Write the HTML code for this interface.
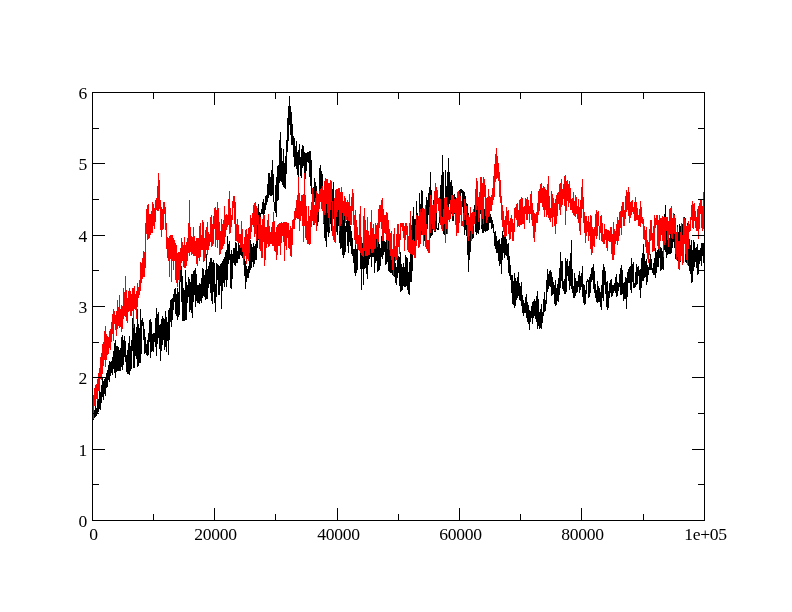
<!DOCTYPE html>
<html><head><meta charset="utf-8"><title>plot</title>
<style>
html,body{margin:0;padding:0;background:#fff;}
body{width:792px;height:612px;position:relative;overflow:hidden;font-family:"Liberation Serif",serif;font-size:17.6px;letter-spacing:-0.3px;color:#000;}
svg{position:absolute;left:0;top:0;}
#labels{position:absolute;left:0;top:0;width:792px;height:612px;will-change:transform;transform:translateZ(0);}
.xl{position:absolute;top:525px;width:81px;text-align:center;line-height:18px;white-space:nowrap;}
.yl{position:absolute;left:40px;width:47px;text-align:right;line-height:20px;}
</style></head><body>
<svg width="792" height="612" viewBox="0 0 792 612" shape-rendering="crispEdges">
<path d="M92 411v9h1v-9zM93 410v10h1v-10zM94 410v8h1v-8zM95 405v12h1v-12zM96 408v8h1v-8zM97 400v13h1v-13zM98 399v13h1v-13zM99 391v18h1v-18zM100 392v18h1v-18zM101 385v18h1v-18zM102 378v19h1v-19zM103 381v19h1v-19zM104 379v15h1v-15zM105 377v19h1v-19zM106 373v15h1v-15zM107 370v17h1v-17zM108 365v15h1v-15zM109 361v21h1v-21zM110 362v14h1v-14zM111 361v12h1v-12zM112 357v18h1v-18zM113 351v18h1v-18zM114 343v30h1v-30zM115 340v38h1v-38zM116 346v26h1v-26zM117 346v25h1v-25zM118 347v24h1v-24zM119 350v21h1v-21zM120 348v23h1v-23zM121 337v30h1v-30zM122 335v35h1v-35zM123 340v25h1v-25zM124 336v21h1v-21zM125 341v21h1v-21zM126 355v17h1v-17zM127 350v24h1v-24zM128 343v31h1v-31zM129 336v39h1v-39zM130 346v25h1v-25zM131 340v29h1v-29zM132 318v33h1v-33zM133 315v53h1v-53zM134 324v44h1v-44zM135 333v23h1v-23zM136 327v32h1v-32zM137 309v58h1v-58zM138 324v42h1v-42zM139 328v35h1v-35zM140 309v54h1v-54zM141 320v34h1v-34zM142 318v8h1v-8zM143 322v18h1v-18zM144 329v25h1v-25zM145 337v16h1v-16zM146 344v11h1v-11zM147 340v16h1v-16zM148 333v22h1v-22zM149 320v22h1v-22zM150 319v39h1v-39zM151 322v30h1v-30zM152 334v17h1v-17zM153 333v19h1v-19zM154 333v9h1v-9zM155 318v29h1v-29zM156 308v48h1v-48zM157 314v30h1v-30zM158 312v26h1v-26zM159 325v24h1v-24zM160 324v37h1v-37zM161 319v32h1v-32zM162 316v29h1v-29zM163 318v22h1v-22zM164 319v31h1v-31zM165 311v36h1v-36zM166 317v35h1v-35zM167 322v19h1v-19zM168 310v45h1v-45zM169 308v32h1v-32zM170 300v22h1v-22zM171 299v28h1v-28zM172 298v22h1v-22zM173 294v16h1v-16zM174 289v13h1v-13zM175 288v26h1v-26zM176 294v22h1v-22zM177 288v32h1v-32zM178 292v25h1v-25zM179 271v44h1v-44zM180 267v15h1v-15zM181 266v36h1v-36zM182 276v45h1v-45zM183 288v33h1v-33zM184 290v31h1v-31zM185 270v50h1v-50zM186 282v38h1v-38zM187 285v18h1v-18zM188 277v20h1v-20zM189 279v33h1v-33zM190 282v28h1v-28zM191 274v39h1v-39zM192 274v44h1v-44zM193 271v31h1v-31zM194 270v25h1v-25zM195 268v39h1v-39zM196 274v27h1v-27zM197 285v18h1v-18zM198 285v18h1v-18zM199 283v21h1v-21zM200 284v17h1v-17zM201 278v25h1v-25zM202 268v30h1v-30zM203 269v27h1v-27zM204 275v22h1v-22zM205 270v30h1v-30zM206 254v45h1v-45zM207 269v30h1v-30zM208 266v22h1v-22zM209 262v22h1v-22zM210 258v35h1v-35zM211 258v43h1v-43zM212 262v42h1v-42zM213 260v32h1v-32zM214 263v40h1v-40zM215 284v28h1v-28zM216 263v34h1v-34zM217 264v16h1v-16zM218 265v30h1v-30zM219 266v29h1v-29zM220 264v22h1v-22zM221 263v46h1v-46zM222 261v30h1v-30zM223 259v24h1v-24zM224 257v30h1v-30zM225 252v28h1v-28zM226 250v37h1v-37zM227 236v44h1v-44zM228 244v20h1v-20zM229 241v19h1v-19zM230 254v34h1v-34zM231 250v39h1v-39zM232 254v25h1v-25zM233 248v15h1v-15zM234 248v17h1v-17zM235 242v24h1v-24zM236 243v20h1v-20zM237 251v12h1v-12zM238 239v20h1v-20zM239 245v14h1v-14zM240 242v13h1v-13zM241 236v20h1v-20zM242 241v17h1v-17zM243 252v7h1v-7zM244 255v21h1v-21zM245 261v28h1v-28zM246 266v16h1v-16zM247 269v9h1v-9zM248 266v12h1v-12zM249 253v20h1v-20zM250 240v30h1v-30zM251 244v24h1v-24zM252 247v15h1v-15zM253 243v24h1v-24zM254 246v18h1v-18zM255 244v16h1v-16zM256 238v22h1v-22zM257 220v28h1v-28zM258 204v36h1v-36zM259 212v23h1v-23zM260 213v17h1v-17zM261 209v5h1v-5zM262 202v12h1v-12zM263 199v20h1v-20zM264 203v11h1v-11zM265 196v14h1v-14zM266 195v10h1v-10zM267 184v18h1v-18zM268 173v25h1v-25zM269 173v22h1v-22zM270 177v19h1v-19zM271 170v26h1v-26zM272 160v35h1v-35zM273 174v28h1v-28zM274 202v9h1v-9zM275 185v28h1v-28zM276 177v40h1v-40zM277 166v35h1v-35zM278 165v35h1v-35zM279 140v43h1v-43zM280 132v49h1v-49zM281 148v34h1v-34zM282 161v24h1v-24zM283 149v38h1v-38zM284 163v25h1v-25zM285 156v33h1v-33zM286 140v34h1v-34zM287 118v34h1v-34zM288 106v35h1v-35zM289 96v29h1v-29zM290 106v29h1v-29zM291 112v33h1v-33zM292 124v21h1v-21zM293 136v21h1v-21zM294 138v29h1v-29zM295 146v20h1v-20zM296 141v28h1v-28zM297 152v23h1v-23zM298 150v27h1v-27zM299 144v21h1v-21zM300 157v19h1v-19zM301 149v29h1v-29zM302 145v23h1v-23zM303 146v20h1v-20zM304 152v28h1v-28zM305 153v26h1v-26zM306 153v18h1v-18zM307 152v10h1v-10zM308 152v11h1v-11zM309 151v26h1v-26zM310 151v35h1v-35zM311 160v34h1v-34zM312 189v28h1v-28zM313 187v38h1v-38zM314 178v24h1v-24zM315 182v39h1v-39zM316 186v45h1v-45zM317 198v28h1v-28zM318 200v22h1v-22zM319 168v32h1v-32zM320 165v26h1v-26zM321 171v31h1v-31zM322 174v32h1v-32zM323 195v29h1v-29zM324 185v53h1v-53zM325 199v42h1v-42zM326 203v44h1v-44zM327 194v38h1v-38zM328 205v32h1v-32zM329 195v38h1v-38zM330 202v22h1v-22zM331 187v44h1v-44zM332 189v30h1v-30zM333 182v37h1v-37zM334 199v33h1v-33zM335 195v33h1v-33zM336 209v23h1v-23zM337 191v44h1v-44zM338 194v32h1v-32zM339 200v43h1v-43zM340 195v54h1v-54zM341 223v25h1v-25zM342 213v42h1v-42zM343 205v53h1v-53zM344 207v48h1v-48zM345 226v26h1v-26zM346 221v11h1v-11zM347 217v29h1v-29zM348 215v38h1v-38zM349 221v21h1v-21zM350 226v20h1v-20zM351 231v23h1v-23zM352 238v18h1v-18zM353 249v14h1v-14zM354 249v24h1v-24zM355 238v38h1v-38zM356 249v24h1v-24zM357 241v29h1v-29zM358 242v7h1v-7zM359 243v5h1v-5zM360 244v25h1v-25zM361 244v46h1v-46zM362 243v26h1v-26zM363 242v43h1v-43zM364 240v29h1v-29zM365 240v28h1v-28zM366 244v30h1v-30zM367 240v39h1v-39zM368 237v28h1v-28zM369 236v23h1v-23zM370 236v21h1v-21zM371 236v31h1v-31zM372 235v22h1v-22zM373 235v22h1v-22zM374 241v32h1v-32zM375 245v18h1v-18zM376 237v24h1v-24zM377 246v26h1v-26zM378 238v33h1v-33zM379 244v26h1v-26zM380 248v18h1v-18zM381 236v21h1v-21zM382 228v31h1v-31zM383 232v23h1v-23zM384 241v11h1v-11zM385 242v23h1v-23zM386 236v28h1v-28zM387 233v29h1v-29zM388 232v39h1v-39zM389 231v41h1v-41zM390 249v24h1v-24zM391 252v21h1v-21zM392 264v11h1v-11zM393 258v18h1v-18zM394 249v28h1v-28zM395 263v20h1v-20zM396 267v18h1v-18zM397 257v21h1v-21zM398 256v17h1v-17zM399 257v29h1v-29zM400 252v40h1v-40zM401 264v27h1v-27zM402 267v23h1v-23zM403 263v23h1v-23zM404 267v20h1v-20zM405 255v32h1v-32zM406 257v29h1v-29zM407 258v32h1v-32zM408 272v22h1v-22zM409 262v33h1v-33zM410 239v43h1v-43zM411 225v57h1v-57zM412 216v55h1v-55zM413 207v47h1v-47zM414 219v30h1v-30zM415 219v21h1v-21zM416 201v39h1v-39zM417 213v24h1v-24zM418 219v18h1v-18zM419 193v40h1v-40zM420 204v24h1v-24zM421 190v45h1v-45zM422 191v27h1v-27zM423 209v31h1v-31zM424 224v17h1v-17zM425 217v26h1v-26zM426 197v46h1v-46zM427 200v29h1v-29zM428 193v22h1v-22zM429 187v52h1v-52zM430 172v66h1v-66zM431 190v46h1v-46zM432 210v25h1v-25zM433 200v27h1v-27zM434 193v39h1v-39zM435 202v30h1v-30zM436 213v16h1v-16zM437 228v2h1v-2zM438 223v7h1v-7zM439 203v20h1v-20zM440 185v28h1v-28zM441 175v52h1v-52zM442 155v74h1v-74zM443 172v62h1v-62zM444 202v33h1v-33zM445 170v65h1v-65zM446 186v48h1v-48zM447 172v56h1v-56zM448 158v55h1v-55zM449 172v32h1v-32zM450 182v32h1v-32zM451 180v34h1v-34zM452 186v35h1v-35zM453 195v26h1v-26zM454 194v20h1v-20zM455 197v14h1v-14zM456 201v11h1v-11zM457 203v20h1v-20zM458 194v29h1v-29zM459 190v19h1v-19zM460 189v10h1v-10zM461 189v4h1v-4zM462 190v17h1v-17zM463 191v26h1v-26zM464 192v43h1v-43zM465 196v34h1v-34zM466 203v33h1v-33zM467 204v51h1v-51zM468 213v59h1v-59zM469 221v39h1v-39zM470 211v41h1v-41zM471 220v20h1v-20zM472 222v17h1v-17zM473 210v28h1v-28zM474 205v12h1v-12zM475 205v27h1v-27zM476 202v33h1v-33zM477 202v31h1v-31zM478 211v23h1v-23zM479 197v33h1v-33zM480 198v16h1v-16zM481 199v30h1v-30zM482 210v23h1v-23zM483 199v34h1v-34zM484 209v22h1v-22zM485 215v17h1v-17zM486 214v17h1v-17zM487 205v26h1v-26zM488 214v16h1v-16zM489 214v9h1v-9zM490 214v9h1v-9zM491 217v12h1v-12zM492 220v8h1v-8zM493 224v9h1v-9zM494 232v14h1v-14zM495 231v18h1v-18zM496 236v17h1v-17zM497 241v12h1v-12zM498 240v21h1v-21zM499 239v27h1v-27zM500 244v20h1v-20zM501 238v36h1v-36zM502 231v29h1v-29zM503 235v18h1v-18zM504 232v26h1v-26zM505 227v28h1v-28zM506 239v17h1v-17zM507 244v16h1v-16zM508 243v30h1v-30zM509 256v20h1v-20zM510 265v15h1v-15zM511 275v18h1v-18zM512 275v29h1v-29zM513 281v24h1v-24zM514 273v35h1v-35zM515 278v28h1v-28zM516 281v19h1v-19zM517 277v21h1v-21zM518 272v24h1v-24zM519 283v17h1v-17zM520 286v15h1v-15zM521 282v24h1v-24zM522 295v18h1v-18zM523 300v16h1v-16zM524 303v10h1v-10zM525 297v16h1v-16zM526 294v24h1v-24zM527 302v20h1v-20zM528 305v19h1v-19zM529 310v20h1v-20zM530 311v11h1v-11zM531 306v12h1v-12zM532 302v22h1v-22zM533 301v17h1v-17zM534 299v17h1v-17zM535 301v18h1v-18zM536 296v26h1v-26zM537 291v38h1v-38zM538 299v27h1v-27zM539 312v17h1v-17zM540 309v19h1v-19zM541 304v25h1v-25zM542 312v11h1v-11zM543 299v17h1v-17zM544 292v20h1v-20zM545 300v11h1v-11zM546 280v24h1v-24zM547 269v23h1v-23zM548 274v15h1v-15zM549 271v15h1v-15zM550 270v17h1v-17zM551 272v24h1v-24zM552 277v18h1v-18zM553 282v12h1v-12zM554 285v19h1v-19zM555 280v26h1v-26zM556 288v17h1v-17zM557 284v17h1v-17zM558 278v24h1v-24zM559 268v27h1v-27zM560 252v36h1v-36zM561 261v20h1v-20zM562 261v28h1v-28zM563 281v10h1v-10zM564 279v15h1v-15zM565 258v36h1v-36zM566 261v31h1v-31zM567 259v17h1v-17zM568 266v15h1v-15zM569 261v29h1v-29zM570 253v33h1v-33zM571 240v49h1v-49zM572 269v24h1v-24zM573 286v12h1v-12zM574 273v25h1v-25zM575 278v18h1v-18zM576 281v12h1v-12zM577 281v11h1v-11zM578 275v12h1v-12zM579 271v22h1v-22zM580 276v14h1v-14zM581 273v14h1v-14zM582 266v31h1v-31zM583 284v19h1v-19zM584 285v20h1v-20zM585 290v14h1v-14zM586 281v13h1v-13zM587 279v3h1v-3zM588 280v18h1v-18zM589 277v20h1v-20zM590 274v19h1v-19zM591 268v14h1v-14zM592 267v13h1v-13zM593 264v25h1v-25zM594 271v22h1v-22zM595 284v14h1v-14zM596 290v12h1v-12zM597 281v22h1v-22zM598 286v16h1v-16zM599 288v14h1v-14zM600 292v15h1v-15zM601 285v25h1v-25zM602 270v28h1v-28zM603 264v37h1v-37zM604 267v18h1v-18zM605 271v23h1v-23zM606 282v25h1v-25zM607 281v29h1v-29zM608 291v17h1v-17zM609 283v15h1v-15zM610 280v13h1v-13zM611 279v18h1v-18zM612 285v11h1v-11zM613 285v8h1v-8zM614 283v8h1v-8zM615 277v16h1v-16zM616 274v23h1v-23zM617 282v14h1v-14zM618 283v8h1v-8zM619 274v13h1v-13zM620 268v27h1v-27zM621 265v30h1v-30zM622 270v24h1v-24zM623 283v18h1v-18zM624 282v17h1v-17zM625 277v22h1v-22zM626 278v31h1v-31zM627 272v25h1v-25zM628 269v14h1v-14zM629 267v16h1v-16zM630 266v24h1v-24zM631 258v35h1v-35zM632 264v18h1v-18zM633 262v26h1v-26zM634 283v5h1v-5zM635 272v15h1v-15zM636 264v21h1v-21zM637 267v17h1v-17zM638 266v10h1v-10zM639 270v20h1v-20zM640 269v29h1v-29zM641 258v30h1v-30zM642 253v28h1v-28zM643 244v37h1v-37zM644 254v24h1v-24zM645 261v16h1v-16zM646 259v26h1v-26zM647 265v17h1v-17zM648 267v8h1v-8zM649 259v11h1v-11zM650 254v16h1v-16zM651 259v11h1v-11zM652 268v5h1v-5zM653 263v12h1v-12zM654 258v17h1v-17zM655 248v30h1v-30zM656 252v21h1v-21zM657 250v17h1v-17zM658 248v19h1v-19zM659 248v10h1v-10zM660 247v24h1v-24zM661 248v22h1v-22zM662 251v18h1v-18zM663 229v41h1v-41zM664 214v36h1v-36zM665 205v47h1v-47zM666 231v27h1v-27zM667 235v20h1v-20zM668 238v16h1v-16zM669 238v16h1v-16zM670 231v23h1v-23zM671 234v19h1v-19zM672 234v14h1v-14zM673 219v23h1v-23zM674 214v34h1v-34zM675 232v27h1v-27zM676 235v25h1v-25zM677 225v36h1v-36zM678 232v20h1v-20zM679 224v27h1v-27zM680 226v36h1v-36zM681 223v30h1v-30zM682 224v11h1v-11zM683 217v23h1v-23zM684 217v26h1v-26zM685 218v44h1v-44zM686 236v27h1v-27zM687 223v27h1v-27zM688 225v41h1v-41zM689 239v32h1v-32zM690 245v29h1v-29zM691 240v43h1v-43zM692 250v32h1v-32zM693 240v31h1v-31zM694 242v25h1v-25zM695 248v14h1v-14zM696 247v21h1v-21zM697 244v31h1v-31zM698 250v24h1v-24zM699 250v14h1v-14zM700 248v13h1v-13zM701 243v23h1v-23zM702 243v13h1v-13zM703 243v20h1v-20zM704 252v7h1v-7z" fill="#000"/>
<path d="M92 402v17h1v-17zM93 395v24h1v-24zM94 388v18h1v-18zM95 385v21h1v-21zM96 384v15h1v-15zM97 379v22h1v-22zM98 373v18h1v-18zM99 368v23h1v-23zM100 357v22h1v-22zM101 353v27h1v-27zM102 344v30h1v-30zM103 342v24h1v-24zM104 331v29h1v-29zM105 326v41h1v-41zM106 334v26h1v-26zM107 336v19h1v-19zM108 337v17h1v-17zM109 331v17h1v-17zM110 329v21h1v-21zM111 322v20h1v-20zM112 314v20h1v-20zM113 309v32h1v-32zM114 311v13h1v-13zM115 315v15h1v-15zM116 311v25h1v-25zM117 300v29h1v-29zM118 307v19h1v-19zM119 295v33h1v-33zM120 309v18h1v-18zM121 305v27h1v-27zM122 306v23h1v-23zM123 288v31h1v-31zM124 292v24h1v-24zM125 276v41h1v-41zM126 290v31h1v-31zM127 298v25h1v-25zM128 291v21h1v-21zM129 288v23h1v-23zM130 291v25h1v-25zM131 294v22h1v-22zM132 288v23h1v-23zM133 288v40h1v-40zM134 286v23h1v-23zM135 294v16h1v-16zM136 291v28h1v-28zM137 283v24h1v-24zM138 287v11h1v-11zM139 280v15h1v-15zM140 262v29h1v-29zM141 263v20h1v-20zM142 258v21h1v-21zM143 251v26h1v-26zM144 252v25h1v-25zM145 223v45h1v-45zM146 209v25h1v-25zM147 205v35h1v-35zM148 204v35h1v-35zM149 214v24h1v-24zM150 214v21h1v-21zM151 211v22h1v-22zM152 202v31h1v-31zM153 204v22h1v-22zM154 208v21h1v-21zM155 200v22h1v-22zM156 198v12h1v-12zM157 186v25h1v-25zM158 173v38h1v-38zM159 180v29h1v-29zM160 200v30h1v-30zM161 207v30h1v-30zM162 209v21h1v-21zM163 202v27h1v-27zM164 202v12h1v-12zM165 207v23h1v-23zM166 223v26h1v-26zM167 237v21h1v-21zM168 238v23h1v-23zM169 236v41h1v-41zM170 235v24h1v-24zM171 235v47h1v-47zM172 235v26h1v-26zM173 238v32h1v-32zM174 240v21h1v-21zM175 243v37h1v-37zM176 245v38h1v-38zM177 253v34h1v-34zM178 252v28h1v-28zM179 252v30h1v-30zM180 248v22h1v-22zM181 238v25h1v-25zM182 242v19h1v-19zM183 245v22h1v-22zM184 237v31h1v-31zM185 245v23h1v-23zM186 242v24h1v-24zM187 238v23h1v-23zM188 223v30h1v-30zM189 200v56h1v-56zM190 227v25h1v-25zM191 236v19h1v-19zM192 237v17h1v-17zM193 227v29h1v-29zM194 236v20h1v-20zM195 241v15h1v-15zM196 238v26h1v-26zM197 238v28h1v-28zM198 238v20h1v-20zM199 226v35h1v-35zM200 223v34h1v-34zM201 235v15h1v-15zM202 220v30h1v-30zM203 222v40h1v-40zM204 238v23h1v-23zM205 230v28h1v-28zM206 227v23h1v-23zM207 222v33h1v-33zM208 232v18h1v-18zM209 234v12h1v-12zM210 217v25h1v-25zM211 215v32h1v-32zM212 224v22h1v-22zM213 216v28h1v-28zM214 208v21h1v-21zM215 207v40h1v-40zM216 210v30h1v-30zM217 202v46h1v-46zM218 208v32h1v-32zM219 222v33h1v-33zM220 231v23h1v-23zM221 219v31h1v-31zM222 224v25h1v-25zM223 220v26h1v-26zM224 206v38h1v-38zM225 215v22h1v-22zM226 214v16h1v-16zM227 215v12h1v-12zM228 199v26h1v-26zM229 191v43h1v-43zM230 208v25h1v-25zM231 215v12h1v-12zM232 201v19h1v-19zM233 196v12h1v-12zM234 196v28h1v-28zM235 202v39h1v-39zM236 224v17h1v-17zM237 219v23h1v-23zM238 225v18h1v-18zM239 234v9h1v-9zM240 234v14h1v-14zM241 221v26h1v-26zM242 229v23h1v-23zM243 244v21h1v-21zM244 237v22h1v-22zM245 230v26h1v-26zM246 229v35h1v-35zM247 234v25h1v-25zM248 228v33h1v-33zM249 227v26h1v-26zM250 215v24h1v-24zM251 218v14h1v-14zM252 213v12h1v-12zM253 205v22h1v-22zM254 203v34h1v-34zM255 202v32h1v-32zM256 206v35h1v-35zM257 208v17h1v-17zM258 215v24h1v-24zM259 224v25h1v-25zM260 217v34h1v-34zM261 225v33h1v-33zM262 219v39h1v-39zM263 215v27h1v-27zM264 215v51h1v-51zM265 227v33h1v-33zM266 227v21h1v-21zM267 220v24h1v-24zM268 214v33h1v-33zM269 226v20h1v-20zM270 232v12h1v-12zM271 227v17h1v-17zM272 222v24h1v-24zM273 212v34h1v-34zM274 221v30h1v-30zM275 232v20h1v-20zM276 227v33h1v-33zM277 225v30h1v-30zM278 224v22h1v-22zM279 223v23h1v-23zM280 223v32h1v-32zM281 222v21h1v-21zM282 223v13h1v-13zM283 222v20h1v-20zM284 222v39h1v-39zM285 222v24h1v-24zM286 222v28h1v-28zM287 223v15h1v-15zM288 223v25h1v-25zM289 230v19h1v-19zM290 226v30h1v-30zM291 228v29h1v-29zM292 220v25h1v-25zM293 219v10h1v-10zM294 211v18h1v-18zM295 208v12h1v-12zM296 200v18h1v-18zM297 195v24h1v-24zM298 177v42h1v-42zM299 193v38h1v-38zM300 201v20h1v-20zM301 195v21h1v-21zM302 195v31h1v-31zM303 194v48h1v-48zM304 173v53h1v-53zM305 195v43h1v-43zM306 206v34h1v-34zM307 221v23h1v-23zM308 206v38h1v-38zM309 216v29h1v-29zM310 210v34h1v-34zM311 202v25h1v-25zM312 188v33h1v-33zM313 194v30h1v-30zM314 205v20h1v-20zM315 198v25h1v-25zM316 191v40h1v-40zM317 193v22h1v-22zM318 194v18h1v-18zM319 191v18h1v-18zM320 189v13h1v-13zM321 188v21h1v-21zM322 186v25h1v-25zM323 190v33h1v-33zM324 181v34h1v-34zM325 178v35h1v-35zM326 179v25h1v-25zM327 179v34h1v-34zM328 183v35h1v-35zM329 183v44h1v-44zM330 180v30h1v-30zM331 181v21h1v-21zM332 201v35h1v-35zM333 226v14h1v-14zM334 198v44h1v-44zM335 190v53h1v-53zM336 189v28h1v-28zM337 189v23h1v-23zM338 188v22h1v-22zM339 188v43h1v-43zM340 192v34h1v-34zM341 187v37h1v-37zM342 192v21h1v-21zM343 201v19h1v-19zM344 196v20h1v-20zM345 198v25h1v-25zM346 202v18h1v-18zM347 200v17h1v-17zM348 202v19h1v-19zM349 194v27h1v-27zM350 206v19h1v-19zM351 197v28h1v-28zM352 189v22h1v-22zM353 193v32h1v-32zM354 215v25h1v-25zM355 210v35h1v-35zM356 220v24h1v-24zM357 227v22h1v-22zM358 235v15h1v-15zM359 214v37h1v-37zM360 206v47h1v-47zM361 237v18h1v-18zM362 248v8h1v-8zM363 216v41h1v-41zM364 208v43h1v-43zM365 220v36h1v-36zM366 230v26h1v-26zM367 217v39h1v-39zM368 231v24h1v-24zM369 235v20h1v-20zM370 222v27h1v-27zM371 210v43h1v-43zM372 228v25h1v-25zM373 224v28h1v-28zM374 234v15h1v-15zM375 223v25h1v-25zM376 225v14h1v-14zM377 223v24h1v-24zM378 209v33h1v-33zM379 205v23h1v-23zM380 205v17h1v-17zM381 200v29h1v-29zM382 198v43h1v-43zM383 209v32h1v-32zM384 215v18h1v-18zM385 215v19h1v-19zM386 212v28h1v-28zM387 213v36h1v-36zM388 220v21h1v-21zM389 229v21h1v-21zM390 233v23h1v-23zM391 231v29h1v-29zM392 249v21h1v-21zM393 234v41h1v-41zM394 228v29h1v-29zM395 246v15h1v-15zM396 234v26h1v-26zM397 224v34h1v-34zM398 224v23h1v-23zM399 234v20h1v-20zM400 223v17h1v-17zM401 223v4h1v-4zM402 223v8h1v-8zM403 223v15h1v-15zM404 226v25h1v-25zM405 223v17h1v-17zM406 223v12h1v-12zM407 226v24h1v-24zM408 236v16h1v-16zM409 223v30h1v-30zM410 211v43h1v-43zM411 230v24h1v-24zM412 240v15h1v-15zM413 239v16h1v-16zM414 241v17h1v-17zM415 225v33h1v-33zM416 215v31h1v-31zM417 220v20h1v-20zM418 216v32h1v-32zM419 212v35h1v-35zM420 209v35h1v-35zM421 212v19h1v-19zM422 208v27h1v-27zM423 208v38h1v-38zM424 209v26h1v-26zM425 205v42h1v-42zM426 224v25h1v-25zM427 240v11h1v-11zM428 240v13h1v-13zM429 207v46h1v-46zM430 195v38h1v-38zM431 199v25h1v-25zM432 205v24h1v-24zM433 204v26h1v-26zM434 191v40h1v-40zM435 183v38h1v-38zM436 187v26h1v-26zM437 190v14h1v-14zM438 198v13h1v-13zM439 197v20h1v-20zM440 199v26h1v-26zM441 216v13h1v-13zM442 217v14h1v-14zM443 209v16h1v-16zM444 198v26h1v-26zM445 197v46h1v-46zM446 197v32h1v-32zM447 205v29h1v-29zM448 207v13h1v-13zM449 210v12h1v-12zM450 200v19h1v-19zM451 195v17h1v-17zM452 195v21h1v-21zM453 196v20h1v-20zM454 199v14h1v-14zM455 200v25h1v-25zM456 198v38h1v-38zM457 192v41h1v-41zM458 191v42h1v-42zM459 194v29h1v-29zM460 196v19h1v-19zM461 201v25h1v-25zM462 221v5h1v-5zM463 213v14h1v-14zM464 199v21h1v-21zM465 203v12h1v-12zM466 206v19h1v-19zM467 217v20h1v-20zM468 215v26h1v-26zM469 217v19h1v-19zM470 207v24h1v-24zM471 213v28h1v-28zM472 212v22h1v-22zM473 209v17h1v-17zM474 212v12h1v-12zM475 189v27h1v-27zM476 178v32h1v-32zM477 181v25h1v-25zM478 197v25h1v-25zM479 192v26h1v-26zM480 177v33h1v-33zM481 177v48h1v-48zM482 183v36h1v-36zM483 177v47h1v-47zM484 179v18h1v-18zM485 185v31h1v-31zM486 198v25h1v-25zM487 197v23h1v-23zM488 189v28h1v-28zM489 196v20h1v-20zM490 197v14h1v-14zM491 195v16h1v-16zM492 188v17h1v-17zM493 176v24h1v-24zM494 164v33h1v-33zM495 154v28h1v-28zM496 148v31h1v-31zM497 156v22h1v-22zM498 163v18h1v-18zM499 172v25h1v-25zM500 180v23h1v-23zM501 196v24h1v-24zM502 205v22h1v-22zM503 211v21h1v-21zM504 220v17h1v-17zM505 216v21h1v-21zM506 207v29h1v-29zM507 211v14h1v-14zM508 210v24h1v-24zM509 221v19h1v-19zM510 218v21h1v-21zM511 215v17h1v-17zM512 219v22h1v-22zM513 223v18h1v-18zM514 208v24h1v-24zM515 207v11h1v-11zM516 204v16h1v-16zM517 203v24h1v-24zM518 210v16h1v-16zM519 200v27h1v-27zM520 199v26h1v-26zM521 197v28h1v-28zM522 198v26h1v-26zM523 207v17h1v-17zM524 206v23h1v-23zM525 198v16h1v-16zM526 199v21h1v-21zM527 197v23h1v-23zM528 200v14h1v-14zM529 206v17h1v-17zM530 194v20h1v-20zM531 191v29h1v-29zM532 203v23h1v-23zM533 210v28h1v-28zM534 213v29h1v-29zM535 214v18h1v-18zM536 212v11h1v-11zM537 203v20h1v-20zM538 191v24h1v-24zM539 189v22h1v-22zM540 184v19h1v-19zM541 183v20h1v-20zM542 188v19h1v-19zM543 186v24h1v-24zM544 187v30h1v-30zM545 189v21h1v-21zM546 190v27h1v-27zM547 184v31h1v-31zM548 176v42h1v-42zM549 196v24h1v-24zM550 208v14h1v-14zM551 191v27h1v-27zM552 194v33h1v-33zM553 198v19h1v-19zM554 203v23h1v-23zM555 199v35h1v-35zM556 195v29h1v-29zM557 193v23h1v-23zM558 192v12h1v-12zM559 184v26h1v-26zM560 183v32h1v-32zM561 179v28h1v-28zM562 189v16h1v-16zM563 184v15h1v-15zM564 176v30h1v-30zM565 175v50h1v-50zM566 181v30h1v-30zM567 180v21h1v-21zM568 184v23h1v-23zM569 181v22h1v-22zM570 188v22h1v-22zM571 199v11h1v-11zM572 198v15h1v-15zM573 192v23h1v-23zM574 201v15h1v-15zM575 195v22h1v-22zM576 197v17h1v-17zM577 206v13h1v-13zM578 199v24h1v-24zM579 207v24h1v-24zM580 200v35h1v-35zM581 187v31h1v-31zM582 179v30h1v-30zM583 197v26h1v-26zM584 212v21h1v-21zM585 216v27h1v-27zM586 216v20h1v-20zM587 221v11h1v-11zM588 216v25h1v-25zM589 222v14h1v-14zM590 215v34h1v-34zM591 216v39h1v-39zM592 227v26h1v-26zM593 229v17h1v-17zM594 227v20h1v-20zM595 214v22h1v-22zM596 210v29h1v-29zM597 212v24h1v-24zM598 211v15h1v-15zM599 226v14h1v-14zM600 216v17h1v-17zM601 215v26h1v-26zM602 223v19h1v-19zM603 234v10h1v-10zM604 224v20h1v-20zM605 229v11h1v-11zM606 229v19h1v-19zM607 230v21h1v-21zM608 230v11h1v-11zM609 231v11h1v-11zM610 227v15h1v-15zM611 227v27h1v-27zM612 234v26h1v-26zM613 222v38h1v-38zM614 229v26h1v-26zM615 231v13h1v-13zM616 224v17h1v-17zM617 217v28h1v-28zM618 220v21h1v-21zM619 212v24h1v-24zM620 211v17h1v-17zM621 206v29h1v-29zM622 202v15h1v-15zM623 202v24h1v-24zM624 210v16h1v-16zM625 196v23h1v-23zM626 190v22h1v-22zM627 192v18h1v-18zM628 187v29h1v-29zM629 192v31h1v-31zM630 202v16h1v-16zM631 201v14h1v-14zM632 200v12h1v-12zM633 207v7h1v-7zM634 202v19h1v-19zM635 197v24h1v-24zM636 202v18h1v-18zM637 208v12h1v-12zM638 215v11h1v-11zM639 209v17h1v-17zM640 201v26h1v-26zM641 207v16h1v-16zM642 217v7h1v-7zM643 219v20h1v-20zM644 226v14h1v-14zM645 230v17h1v-17zM646 227v26h1v-26zM647 240v19h1v-19zM648 242v21h1v-21zM649 229v26h1v-26zM650 220v21h1v-21zM651 220v20h1v-20zM652 233v19h1v-19zM653 226v25h1v-25zM654 215v36h1v-36zM655 218v10h1v-10zM656 215v10h1v-10zM657 215v31h1v-31zM658 220v29h1v-29zM659 215v36h1v-36zM660 218v23h1v-23zM661 218v17h1v-17zM662 216v25h1v-25zM663 217v40h1v-40zM664 217v28h1v-28zM665 217v26h1v-26zM666 217v14h1v-14zM667 217v23h1v-23zM668 221v26h1v-26zM669 209v26h1v-26zM670 208v26h1v-26zM671 206v32h1v-32zM672 218v21h1v-21zM673 213v20h1v-20zM674 215v19h1v-19zM675 218v36h1v-36zM676 232v28h1v-28zM677 227v30h1v-30zM678 241v28h1v-28zM679 241v29h1v-29zM680 232v29h1v-29zM681 223v33h1v-33zM682 235v30h1v-30zM683 217v46h1v-46zM684 218v26h1v-26zM685 220v34h1v-34zM686 226v34h1v-34zM687 225v40h1v-40zM688 221v28h1v-28zM689 224v8h1v-8zM690 217v14h1v-14zM691 205v15h1v-15zM692 201v27h1v-27zM693 204v25h1v-25zM694 203v18h1v-18zM695 211v17h1v-17zM696 217v14h1v-14zM697 209v22h1v-22zM698 206v33h1v-33zM699 203v26h1v-26zM700 200v14h1v-14zM701 199v29h1v-29zM702 206v25h1v-25zM703 192v37h1v-37zM704 195v31h1v-31z" fill="#f00"/>
<path d="M92 92h613v429h-613z M93 93v427h611v-427z" fill="#000" fill-rule="evenodd"/>
<path d="M92 521v-13h1v13zM92 92v13h1v-13zM153 521v-7h1v7zM153 92v7h1v-7zM214 521v-13h1v13zM214 92v13h1v-13zM275 521v-7h1v7zM275 92v7h1v-7zM337 521v-13h1v13zM337 92v13h1v-13zM398 521v-7h1v7zM398 92v7h1v-7zM459 521v-13h1v13zM459 92v13h1v-13zM520 521v-7h1v7zM520 92v7h1v-7zM581 521v-13h1v13zM581 92v13h1v-13zM643 521v-7h1v7zM643 92v7h1v-7zM704 521v-13h1v13zM704 92v13h1v-13zM92 520h13v1h-13zM705 520h-13v1h13zM92 484h7v1h-7zM705 484h-7v1h7zM92 449h13v1h-13zM705 449h-13v1h13zM92 413h7v1h-7zM705 413h-7v1h7zM92 377h13v1h-13zM705 377h-13v1h13zM92 342h7v1h-7zM705 342h-7v1h7zM92 306h13v1h-13zM705 306h-13v1h13zM92 270h7v1h-7zM705 270h-7v1h7zM92 235h13v1h-13zM705 235h-13v1h13zM92 199h7v1h-7zM705 199h-7v1h7zM92 163h13v1h-13zM705 163h-13v1h13zM92 128h7v1h-7zM705 128h-7v1h7zM92 92h13v1h-13zM705 92h-13v1h13z" fill="#000"/>
</svg>
<div id="labels">
<div class="xl" style="left:53px">0</div><div class="xl" style="left:175px">20000</div><div class="xl" style="left:298px">40000</div><div class="xl" style="left:420px">60000</div><div class="xl" style="left:542px">80000</div><div class="xl" style="left:665px">1e+05</div>
<div class="yl" style="top:511px">0</div><div class="yl" style="top:440px">1</div><div class="yl" style="top:368px">2</div><div class="yl" style="top:297px">3</div><div class="yl" style="top:226px">4</div><div class="yl" style="top:154px">5</div><div class="yl" style="top:83px">6</div>
</div>
</body></html>
